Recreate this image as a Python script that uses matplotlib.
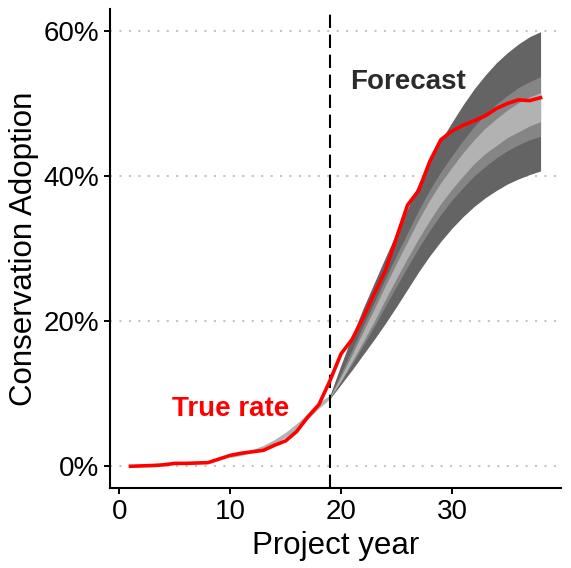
import numpy as np
from matplotlib import pyplot as plt

plt.rcParams['font.family'] = ['Liberation Sans', 'DejaVu Sans']
plt.rcParams['lines.scale_dashes'] = False

# observed adoption rate (%), project years 1..38
years = list(range(1, 39))
true_rate = [0.0, 0.05, 0.1, 0.2, 0.4, 0.4, 0.45, 0.5, 1.0, 1.5,
             1.8, 2.0, 2.2, 2.9, 3.5, 4.8, 6.8, 8.5, 11.8, 15.5,
             17.5, 20.5, 23.8, 27.0, 31.5, 36.0, 38.0, 42.0, 45.0, 46.2,
             47.0, 47.6, 48.3, 49.3, 50.0, 50.5, 50.4, 50.8]

# fitted band before forecast start
fit_years = [10, 11, 12, 13, 14, 15, 16, 17, 18, 19]
fit_lo = [1.2, 1.5, 1.9, 2.4, 3.1, 4.0, 5.1, 6.5, 8.0, 9.3]
fit_hi = [1.4, 1.8, 2.3, 2.9, 3.7, 4.7, 5.9, 7.3, 8.8, 9.8]

# forecast bands, years 19..38
fc_years = list(range(19, 39))
outer_hi = [9.8, 14.0, 18.0, 21.8, 25.3, 28.8, 32.2, 35.5, 39.0, 42.1,
            44.9, 47.4, 49.8, 52.0, 53.9, 55.6, 57.0, 58.2, 59.2, 59.9]
outer_lo = [9.3, 11.3, 13.3, 15.4, 17.5, 19.7, 22.0, 24.4, 26.8, 29.0,
            31.0, 32.8, 34.4, 35.8, 37.0, 38.0, 38.9, 39.6, 40.2, 40.7]
mid_hi = [9.62, 12.8, 16.1, 19.4, 22.6, 25.9, 29.1, 32.2, 35.3, 38.1,
          40.6, 42.8, 44.9, 46.8, 48.5, 49.9, 51.1, 52.2, 53.0, 53.7]
mid_lo = [9.41, 11.7, 14.1, 16.7, 19.3, 22.1, 24.8, 27.5, 30.1, 32.5,
          34.7, 36.7, 38.4, 40.0, 41.3, 42.5, 43.5, 44.3, 45.0, 45.5]
inner_hi = [9.56, 12.4, 15.4, 18.6, 21.7, 24.9, 28.0, 31.0, 34.0, 36.7,
            39.1, 41.2, 43.2, 45.0, 46.6, 47.9, 49.1, 50.1, 50.9, 51.5]
inner_lo = [9.45, 11.8, 14.5, 17.2, 20.0, 23.0, 25.9, 28.7, 31.4, 33.9,
            36.2, 38.2, 40.0, 41.7, 43.1, 44.2, 45.3, 46.1, 46.9, 47.5]

forecast_start = 19
y_ticks = [0, 20, 40, 60]
x_ticks = [0, 10, 20, 30]

fig = plt.figure(figsize=(5.71, 5.68), dpi=100)
ax = fig.add_axes([0.1926, 0.1408, 0.79, 0.843])

for y in y_ticks:
    ax.axhline(y, color='#c4c4c4', lw=1.5, ls=(0, (1.5, 5.3)), zorder=0)

ax.fill_between(fc_years, outer_lo, outer_hi, color='#646464', lw=0, zorder=1)
ax.fill_between(fc_years, mid_lo, mid_hi, color='#858585', lw=0, zorder=2)
ax.fill_between(fc_years, inner_lo, inner_hi, color='#b2b2b2', lw=0, zorder=3)
ax.fill_between(fit_years, fit_lo, fit_hi, color='#b2b2b2', lw=0, zorder=3)

ax.axvline(forecast_start, color='black', lw=1.5, ls=(0, (9.6, 4.8)), zorder=4)
ax.plot(years, true_rate, color='#ff0000', lw=2.6, zorder=5)

ax.text(10, 7.9, 'True rate', color='#ff0000', fontsize=20, fontweight='bold',
        ha='center', va='center')
ax.text(26, 53.0, 'Forecast', color='#2b2b2b', fontsize=20, fontweight='bold',
        ha='center', va='center')

ax.set_xlim(-0.85, 39.85)
ax.set_ylim(-3, 63)
ax.set_xticks(x_ticks)
ax.set_yticks(y_ticks)
ax.set_yticklabels([f'{v}%' for v in y_ticks])
ax.tick_params(labelsize=20, length=4, width=1.4, color='black', pad=4)
ax.set_xlabel('Project year', fontsize=22.5, labelpad=4)
ax.set_ylabel('Conservation Adoption', fontsize=22.5, labelpad=3)

for side in ['top', 'right']:
    ax.spines[side].set_visible(False)
for side in ['left', 'bottom']:
    ax.spines[side].set_linewidth(1.5)

fig.savefig('out.png', dpi=100)
